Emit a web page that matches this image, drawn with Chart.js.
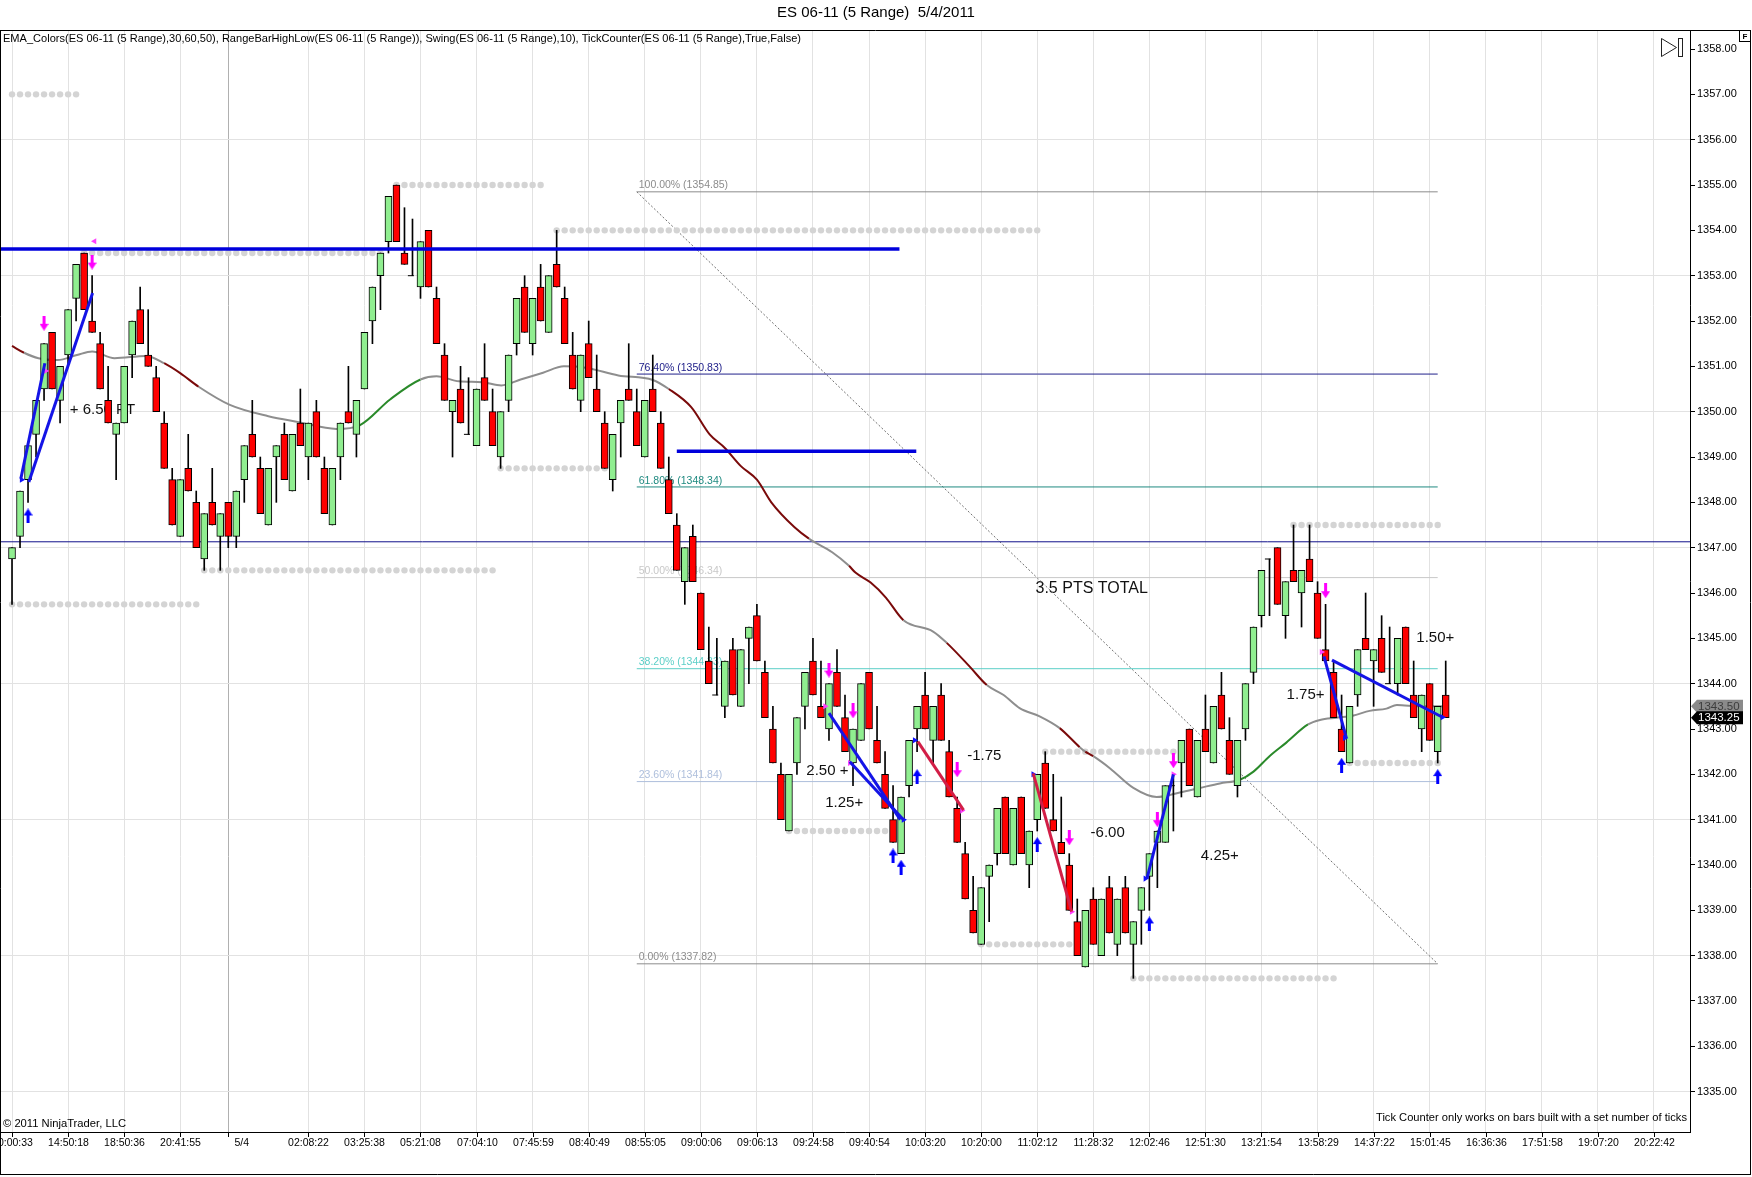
<!DOCTYPE html>
<html>
<head>
<meta charset="utf-8">
<script src="https://cdn.jsdelivr.net/npm/chart.js@4.4.1/dist/chart.umd.min.js"></script>
<style>
  html, body { margin: 0; padding: 0; background: #fff; }
  #wrap { width: 1752px; height: 1177px; }
</style>
</head>
<body>
<div id="wrap"><canvas id="c" width="1752" height="1177"></canvas></div>
<script>
// ---- range bars (5 range) ----
var opens = [
  1346.75,1347.25,1348.5,1349.5,1350.5,1351.75,1350.25,1351.25,1352.5,1353.5,
  1352.0,1351.5,1350.25,1349.5,1349.75,1351.25,1352.25,1351.25,1350.75,1349.75,
  1348.5,1347.25,1348.75,1348.0,1346.75,1348.0,1347.25,1348.0,1347.25,1348.5,
  1349.5,1348.75,1347.5,1349.0,1349.5,1348.25,1349.75,1349.0,1350.0,1348.75,
  1347.5,1349.0,1350.0,1349.5,1350.5,1352.0,1353.0,1353.75,1355.0,1353.5,
  1353.0,1352.75,1354.0,1352.5,1351.25,1350.0,1350.5,1349.5,1349.25,1350.75,
  1350.0,1349.0,1350.25,1351.5,1352.75,1351.5,1352.75,1351.75,1353.25,1352.5,
  1351.25,1350.25,1351.5,1350.5,1349.75,1348.5,1349.75,1350.5,1350.0,1349.0,
  1350.5,1349.75,1348.5,1347.5,1346.25,1347.25,1346.0,1344.5,1343.75,1343.5,
  1344.75,1343.5,1345.0,1345.5,1344.25,1343.0,1342.0,1340.75,1342.25,1343.5,
  1344.5,1343.5,1343.0,1344.25,1343.25,1342.25,1342.75,1344.25,1342.75,1342.0,
  1341.0,1340.25,1341.75,1343.0,1343.75,1342.75,1343.75,1342.5,1341.25,1340.25,
  1339.0,1338.25,1339.75,1340.25,1341.5,1340.0,1341.5,1340.0,1341.0,1342.25,
  1341.0,1340.5,1340.0,1338.75,1337.75,1339.25,1338.0,1339.5,1338.25,1339.5,
  1338.25,1339.0,1339.75,1340.5,1340.5,1341.75,1342.25,1343.0,1341.5,1343.0,
  1342.25,1343.75,1342.75,1341.75,1343.0,1344.25,1345.5,1346.75,1347.0,1345.5,
  1346.5,1346.0,1346.75,1346.0,1344.75,1344.25,1343.0,1342.25,1343.75,1345.0,
  1344.5,1345.0,1344.0,1344.0,1345.25,1343.75,1343.0,1344.0,1342.5,1343.75
];
var highs = [
  1347.0,1348.25,1349.25,1350.25,1351.5,1351.75,1351.0,1352.25,1353.25,1353.5,
  1353.0,1351.75,1351.0,1349.75,1351.0,1352.0,1352.75,1352.25,1351.0,1350.0,
  1348.75,1348.5,1349.5,1348.25,1347.75,1348.75,1347.75,1348.0,1348.25,1349.25,
  1350.25,1349.0,1348.75,1349.25,1349.75,1349.5,1350.5,1349.75,1350.25,1349.0,
  1348.75,1349.75,1351.0,1350.25,1351.75,1352.75,1353.5,1354.75,1355.0,1354.5,
  1354.25,1353.75,1354.0,1352.75,1351.5,1350.25,1351.0,1350.75,1350.5,1351.5,
  1350.5,1350.0,1351.25,1352.5,1353.0,1352.5,1353.25,1353.0,1354.0,1352.75,
  1351.75,1351.25,1352.0,1351.25,1350.0,1349.5,1350.25,1351.5,1350.5,1350.25,
  1351.25,1350.0,1349.0,1347.75,1347.0,1347.5,1346.0,1345.25,1345.0,1344.5,
  1345.0,1344.75,1345.25,1345.75,1344.5,1343.5,1342.25,1342.0,1343.25,1344.25,
  1345.0,1344.5,1344.0,1344.75,1343.75,1343.0,1344.0,1344.25,1343.5,1342.5,
  1341.75,1341.5,1342.75,1343.5,1344.25,1343.5,1344.0,1342.75,1341.5,1340.5,
  1339.75,1339.5,1340.0,1341.25,1341.5,1341.25,1341.5,1340.75,1342.0,1342.5,
  1342.0,1341.5,1340.25,1339.25,1339.0,1339.5,1339.25,1339.75,1339.25,1339.75,
  1338.75,1339.5,1340.25,1340.75,1341.75,1342.0,1342.75,1343.0,1342.75,1343.75,
  1343.5,1344.25,1343.25,1342.75,1344.0,1345.25,1346.5,1346.75,1347.0,1346.25,
  1347.5,1346.5,1347.5,1346.25,1345.75,1344.5,1343.75,1343.5,1344.75,1346.0,
  1344.75,1345.5,1345.25,1345.0,1345.25,1344.5,1343.75,1344.0,1343.5,1344.5
];
var lows = [
  1345.75,1347.0,1348.0,1349.0,1350.25,1350.5,1349.75,1351.0,1352.0,1352.25,
  1351.75,1350.5,1349.75,1348.5,1349.75,1350.75,1351.5,1351.0,1350.0,1348.75,
  1347.5,1347.25,1348.25,1347.0,1346.5,1347.5,1346.5,1347.0,1347.0,1348.0,
  1349.0,1347.75,1347.5,1348.0,1348.5,1348.25,1349.25,1348.5,1349.0,1347.75,
  1347.5,1348.5,1349.75,1349.0,1350.5,1351.5,1352.25,1353.5,1353.75,1353.25,
  1353.0,1352.5,1352.75,1351.5,1350.25,1349.0,1349.75,1349.5,1349.25,1350.25,
  1349.25,1348.75,1350.0,1351.25,1351.75,1351.25,1352.0,1351.75,1352.75,1351.5,
  1350.5,1350.0,1350.75,1350.0,1348.75,1348.25,1349.0,1350.25,1349.25,1349.0,
  1350.0,1348.75,1347.75,1346.5,1345.75,1346.25,1344.75,1344.0,1343.75,1343.25,
  1343.75,1343.5,1344.0,1344.5,1343.25,1342.25,1341.0,1340.75,1342.0,1343.0,
  1343.75,1343.25,1342.75,1343.5,1342.5,1341.75,1342.75,1343.0,1342.25,1341.25,
  1340.5,1340.25,1341.5,1342.5,1343.0,1342.25,1342.75,1341.5,1340.5,1339.25,
  1338.5,1338.25,1338.75,1340.0,1340.25,1340.0,1340.25,1339.5,1340.75,1341.25,
  1340.75,1340.25,1339.0,1338.0,1337.75,1338.25,1338.0,1338.5,1338.0,1338.5,
  1337.5,1338.25,1339.0,1339.5,1340.5,1340.75,1341.5,1341.75,1341.5,1342.5,
  1342.25,1343.0,1342.0,1341.5,1342.75,1344.0,1345.25,1345.5,1345.75,1345.0,
  1346.25,1345.25,1346.25,1345.0,1344.5,1343.25,1342.5,1342.25,1343.5,1344.75,
  1343.5,1344.25,1344.0,1343.75,1344.0,1343.25,1342.5,1342.75,1342.25,1343.25
];
var closes = [
  1347.0,1348.25,1349.25,1350.25,1351.5,1350.5,1351.0,1352.25,1353.25,1352.25,
  1351.75,1350.5,1349.75,1349.75,1351.0,1352.0,1351.5,1351.0,1350.0,1348.75,
  1347.5,1348.5,1348.25,1347.0,1347.75,1347.5,1347.75,1347.25,1348.25,1349.25,
  1349.0,1347.75,1348.75,1349.25,1348.5,1349.5,1349.25,1349.75,1349.0,1347.75,
  1348.75,1349.75,1349.75,1350.25,1351.75,1352.75,1353.5,1354.75,1353.75,1353.25,
  1353.0,1353.75,1352.75,1351.5,1350.25,1350.25,1349.75,1349.5,1350.5,1350.25,
  1349.25,1350.0,1351.25,1352.5,1351.75,1352.5,1352.0,1353.0,1352.75,1351.5,
  1350.5,1351.25,1350.75,1350.0,1348.75,1349.5,1350.25,1350.25,1349.25,1350.25,
  1350.0,1348.75,1347.75,1346.5,1347.0,1346.25,1344.75,1344.0,1343.75,1344.5,
  1343.75,1344.75,1345.25,1344.5,1343.25,1342.25,1341.0,1342.0,1343.25,1344.25,
  1343.75,1343.25,1344.0,1343.5,1342.5,1343.0,1344.0,1343.0,1342.25,1341.25,
  1340.5,1341.5,1342.75,1343.5,1343.0,1343.5,1342.75,1341.5,1340.5,1339.25,
  1338.5,1339.5,1340.0,1341.25,1340.25,1341.25,1340.25,1340.75,1342.0,1341.25,
  1340.75,1340.25,1339.0,1338.0,1339.0,1338.25,1339.25,1338.5,1339.25,1338.5,
  1338.75,1339.5,1340.25,1340.75,1341.75,1341.75,1342.75,1341.75,1342.75,1342.5,
  1343.5,1343.0,1342.0,1342.75,1344.0,1345.25,1346.5,1346.75,1345.75,1346.25,
  1346.25,1346.5,1346.25,1345.0,1344.5,1343.25,1342.5,1343.5,1344.75,1344.75,
  1344.75,1344.25,1344.0,1345.0,1344.0,1343.25,1343.75,1342.75,1343.5,1343.25
];

// x axis labels (bar index -> time)
var tickBars = [0,7,14,21,27,37,44,51,58,65,72,79,86,93,100,107,114,121,128,135,142,149,156,163,170,177,184,191,198,205];
var tickLabels = ['10:00:33','14:50:18','18:50:36','20:41:55','5/4','02:08:22','03:25:38','05:21:08','07:04:10','07:45:59',
  '08:40:49','08:55:05','09:00:06','09:06:13','09:24:58','09:40:54','10:03:20','10:20:00','11:02:12','11:28:32',
  '12:02:46','12:51:30','13:21:54','13:58:29','14:37:22','15:01:45','16:36:36','17:51:58','19:07:20','20:22:42'];
var priceTicks = [1335,1336,1337,1338,1339,1340,1341,1342,1343,1344,1345,1346,1347,1348,1349,1350,1351,1352,1353,1354,1355,1356,1357,1358];

// EMA_Colors line, read at sample bars; r = falling, G = rising, g = flat
var emaBars = [0,1.5,3.3,5.7,8.1,10,12.8,16.7,19,21,23.3,27.2,32,35.8,40.5,43.4,47.2,51,53,55.8,
  58.7,61.1,63.5,66.3,68.9,71.6,75.7,80,82,84.8,87.1,89,91,93,94.8,97.7,99.5,102.4,104.5,105.3,
  107.2,109.1,111.3,115,116.7,119.6,121.7,123.8,125.8,128.3,130.8,133.3,134,135,137.1,140,142.9,145.8,148.3,150.8,
  153.3,155,157,159.1,161.8,163.3,165.4,167.5,169.5,171.6,172.9,175.8,179];
var emaValues = [1351.45,1351.3,1351.18,1351.14,1351.25,1351.33,1351.18,1351.23,1351.07,1350.85,1350.55,1350.15,1349.9,1349.77,1349.62,1349.7,1350.27,1350.71,1350.78,1350.67,
  1350.65,1350.58,1350.71,1350.86,1351.0,1350.97,1350.8,1350.7,1350.5,1350.1,1349.5,1349.2,1348.8,1348.5,1348.0,1347.45,1347.2,1346.9,1346.6,1346.45,
  1346.23,1345.9,1345.4,1345.15,1344.9,1344.37,1343.97,1343.75,1343.46,1343.28,1343.02,1342.6,1342.5,1342.4,1342.13,1341.7,1341.5,1341.6,1341.7,1341.8,
  1341.88,1342.06,1342.4,1342.7,1343.1,1343.2,1343.25,1343.3,1343.4,1343.45,1343.53,1343.5,1343.5];
var emaTrend = ('r' + 'ggggggg' + 'rr' + 'ggggg' + 'GG' + 'ggggggggggg' + 'rrrrrrrr' + 'gg' + 'rrrr' + 'gg' + 'rr' +
  'gggg' + 'r' + 'g' + 'r' + 'ggggggg' + 'GGGG' + 'ggggggggg').split('');

// RangeBarHighLow swing levels (dotted)
var dotLevels = [1357.0,1353.5,1355.0,1354.0,1345.75,1346.5,1348.75,1340.75,1338.25,1342.5,1337.5,1347.5,1342.25];
var dotFrom   = [0,9,48,68,0,24,61,97,121,129,140,160,167];
var dotTo     = [8,46,66,128,23,60,74,109,132,145,165,178,178];

// Fibonacci retracement
var fibPct = ['100.00%','76.40%','61.80%','50.00%','38.20%','23.60%','0.00%'];
var fibValues = [1354.85,1350.83,1348.34,1346.34,1344.33,1341.84,1337.82];
var fibStartBar = 78, fibEndBar = 178;

// drawn horizontal lines
var bluePrice = [1353.59,1349.13];
var blueFrom = [-1.5,83];
var blueTo = [110.8,112.9];
var navyPrice = 1347.13;

// trade lines
var tradeFromBar   = [1.1,2.1,102.0,104.6,113.1,127.5,141.7,163.8,164.8];
var tradeFromPrice = [1348.52,1348.45,1343.35,1342.28,1342.72,1342.02,1339.7,1344.6,1344.52];
var tradeToBar     = [4.1,10.06,110.9,111.3,118.8,132.3,145.0,166.6,178.6];
var tradeToPrice   = [1351.07,1352.62,1341.0,1341.0,1341.21,1338.97,1342.0,1342.8,1343.26];
var tradeWin       = [true,true,true,true,false,false,true,true,true];

// notes
var noteText  = ['+ 6.50 PT','2.50 +','1.25+','-1.75','-6.00','4.25+','1.75+','1.50+','3.5 PTS TOTAL'];
var noteBar   = [11.3,101.8,103.9,121.4,136.8,150.8,161.5,177.7,134.8];
var notePrice = [1350.04,1342.08,1341.36,1342.40,1340.70,1340.2,1343.75,1345.0,1346.1];

// swing arrows
var downBars   = [4,10,102,105,118,132,143,145,164];
var downPrices = [1351.95,1353.3,1344.3,1343.4,1342.1,1340.6,1341.0,1342.3,1346.05];
var upBars     = [2,110,111,113,128,142,166,178];
var upPrices   = [1347.7,1340.2,1339.95,1341.95,1340.45,1338.7,1342.2,1341.95];
var triBars    = [10.3,4.2,1.2,101.5,104.6,118.6,111.3,112.7,127.5,132.3,141.5,145,163.5,166.4,178.6];
var triPrices  = [1353.76,1350.9,1348.5,1343.5,1342.25,1341.2,1341.0,1342.75,1342.0,1338.97,1339.7,1342.0,1344.7,1342.8,1343.26];
var triSide    = ['S','S','L','S','S','S','L','L','L','S','L','S','S','L','L'];

var FONT = "'Liberation Sans', Arial, Helvetica, sans-serif";
var fibColors = ['#8c8c8c','#20208a','#1f8a80','#c8c8c8','#5ccfc8','#aebfdc','#8c8c8c'];
var emaColorMap = { g: '#8e8e8e', r: '#7a0a0a', G: '#2a8a2a' };

function makeArrow(color, up) {
  var cv = document.createElement('canvas');
  cv.width = 9; cv.height = 15;
  var g = cv.getContext('2d');
  g.fillStyle = color;
  g.beginPath();
  if (up) {
    g.moveTo(4.5, 0); g.lineTo(9, 7); g.lineTo(6, 7); g.lineTo(6, 15); g.lineTo(3, 15); g.lineTo(3, 7); g.lineTo(0, 7);
  } else {
    g.moveTo(4.5, 15); g.lineTo(9, 8); g.lineTo(6, 8); g.lineTo(6, 0); g.lineTo(3, 0); g.lineTo(3, 8); g.lineTo(0, 8);
  }
  g.closePath();
  g.fill();
  return cv;
}

function fitText(c, text, x, y, w, align) {
  var m = c.measureText(text).width;
  c.save();
  c.translate(x, y);
  c.scale(w / m, 1);
  c.textAlign = align;
  c.fillText(text, 0, 0);
  c.restore();
}

// ---- datasets ----
var datasets = [];

// trade lines (top)
for (var t = 0; t < tradeFromBar.length; t++) {
  datasets.push({
    type: 'line', order: 1,
    data: [{x: tradeFromBar[t], y: tradeFromPrice[t]}, {x: tradeToBar[t], y: tradeToPrice[t]}],
    borderColor: tradeWin[t] ? '#1414e6' : '#d21e46', borderWidth: 3, pointRadius: 0
  });
}
// thick blue drawn lines
for (var b = 0; b < bluePrice.length; b++) {
  datasets.push({
    type: 'line', order: 2,
    data: [{x: blueFrom[b], y: bluePrice[b]}, {x: blueTo[b], y: bluePrice[b]}],
    borderColor: '#0000dc', borderWidth: 3.5, pointRadius: 0
  });
}
// arrows and triangles
datasets.push({
  type: 'line', order: 1, showLine: false,
  data: downBars.map(function (v, i) { return {x: v, y: downPrices[i]}; }),
  pointStyle: makeArrow('#ff00ff', false), pointRadius: 5
});
datasets.push({
  type: 'line', order: 1, showLine: false,
  data: upBars.map(function (v, i) { return {x: v, y: upPrices[i]}; }),
  pointStyle: makeArrow('#0000ff', true), pointRadius: 5
});
datasets.push({
  type: 'line', order: 1, showLine: false,
  data: triBars.map(function (v, i) { return {x: v, y: triPrices[i]}; }),
  pointStyle: 'triangle', pointRadius: 3.5, pointBorderWidth: 0,
  pointRotation: function (ctx) { return ctx.dataIndex === 0 ? -90 : 90; },
  pointBackgroundColor: triSide.map(function (s) { return s === 'S' ? '#ff40ff' : '#1010ff'; })
});
// doji ticks
var dojiPts = [];
for (var d = 0; d < opens.length; d++) if (opens[d] === closes[d]) dojiPts.push({x: d - 0.2, y: opens[d]});
datasets.push({
  type: 'line', order: 3, showLine: false, data: dojiPts,
  pointStyle: 'line', pointRadius: 3, borderColor: '#000', pointBorderColor: '#000', pointBorderWidth: 1
});
// candle bodies
datasets.push({
  type: 'bar', order: 4, grouped: false,
  data: opens.map(function (o, i) { return {x: i, y: [o, closes[i]]}; }),
  backgroundColor: opens.map(function (o, i) { return closes[i] > o ? '#90ee90' : (closes[i] < o ? '#ff0000' : '#000'); }),
  borderColor: '#000', borderWidth: 1, borderSkipped: false, barThickness: 7
});
// wicks
datasets.push({
  type: 'bar', order: 5, grouped: false,
  data: lows.map(function (l, i) { return {x: i, y: [l, highs[i]]}; }),
  backgroundColor: '#000', borderWidth: 0, barThickness: 1
});
// EMA
datasets.push({
  type: 'line', order: 6,
  data: emaBars.map(function (v, i) { return {x: v, y: emaValues[i]}; }),
  borderWidth: 2, pointRadius: 0, cubicInterpolationMode: 'monotone',
  borderColor: '#8e8e8e',
  segment: { borderColor: function (ctx) { return emaColorMap[emaTrend[ctx.p0DataIndex]]; } }
});
// swing dots
var dotPts = [];
for (var k = 0; k < dotLevels.length; k++) {
  for (var j = dotFrom[k]; j <= dotTo[k]; j++) dotPts.push({x: j, y: dotLevels[k]});
}
datasets.push({
  type: 'line', order: 7, showLine: false, data: dotPts,
  pointRadius: 3.2, pointBorderWidth: 0, pointBackgroundColor: '#d4d4d4'
});
// navy line
datasets.push({
  type: 'line', order: 8,
  data: [{x: -1.5, y: navyPrice}, {x: 209.5, y: navyPrice}],
  borderColor: '#10108a', borderWidth: 1, pointRadius: 0
});
// fib lines and diagonal
for (var f = 0; f < fibValues.length; f++) {
  datasets.push({
    type: 'line', order: 9,
    data: [{x: fibStartBar, y: fibValues[f]}, {x: fibEndBar, y: fibValues[f]}],
    borderColor: fibColors[f], borderWidth: 1, pointRadius: 0
  });
}
datasets.push({
  type: 'line', order: 9,
  data: [{x: fibStartBar, y: fibValues[0]}, {x: fibEndBar, y: fibValues[fibValues.length - 1]}],
  borderColor: '#707070', borderWidth: 1, borderDash: [2, 2], pointRadius: 0
});

var overlay = {
  id: 'overlay',
  beforeDraw: function (chart) {
    var c = chart.ctx;
    c.save(); c.fillStyle = '#fff'; c.fillRect(0, 0, chart.width, chart.height); c.restore();
  },
  beforeDatasetsDraw: function (chart) {
    var c = chart.ctx, xs = chart.scales.x, ys = chart.scales.y;
    c.save();
    c.font = '10.5px ' + FONT; c.textAlign = 'left'; c.textBaseline = 'bottom';
    for (var i = 0; i < fibValues.length; i++) {
      c.fillStyle = fibColors[i];
      c.fillText(fibPct[i] + ' (' + fibValues[i].toFixed(2) + ')', xs.getPixelForValue(fibStartBar) + 2, ys.getPixelForValue(fibValues[i]) - 1);
    }
    c.fillStyle = '#111'; c.textAlign = 'center'; c.textBaseline = 'middle';
    for (var n = 0; n < noteText.length; n++) {
      c.font = (noteText[n].length > 10 ? '16px ' : '15px ') + FONT;
      c.fillText(noteText[n], xs.getPixelForValue(noteBar[n]), ys.getPixelForValue(notePrice[n]));
    }
    c.restore();
  },
  afterDraw: function (chart) {
    var c = chart.ctx, xs = chart.scales.x, ys = chart.scales.y, a = chart.chartArea;
    c.save();
    // x ticks + labels
    c.strokeStyle = '#000'; c.lineWidth = 1; c.fillStyle = '#000';
    c.font = '10.5px ' + FONT; c.textBaseline = 'middle';
    for (var i = 0; i < tickBars.length; i++) {
      var px = Math.round(xs.getPixelForValue(tickBars[i])) + 0.5;
      c.beginPath(); c.moveTo(px, a.bottom); c.lineTo(px, a.bottom + 5); c.stroke();
      if (tickLabels[i].indexOf('/') >= 0) { c.textAlign = 'left'; c.fillText(tickLabels[i], px + 6, a.bottom + 11); }
      else { c.textAlign = 'center'; c.fillText(tickLabels[i], px, a.bottom + 11); }
    }
    // frames
    c.beginPath();
    c.moveTo(0, a.top + 0.5); c.lineTo(1751, a.top + 0.5);
    c.moveTo(0.5, a.top); c.lineTo(0.5, 1175);
    c.moveTo(0, 1174.5); c.lineTo(1751, 1174.5);
    c.moveTo(1750.5, a.top); c.lineTo(1750.5, 1175);
    c.stroke();
    // title + indicator line
    c.textBaseline = 'middle';
    c.font = '15px ' + FONT; c.textAlign = 'center';
    c.fillText('ES 06-11 (5 Range)  5/4/2011', 876, 13);
    c.font = '11px ' + FONT;
    fitText(c, 'EMA_Colors(ES 06-11 (5 Range),30,60,50), RangeBarHighLow(ES 06-11 (5 Range)), Swing(ES 06-11 (5 Range),10), TickCounter(ES 06-11 (5 Range),True,False)', 3, 39, 798, 'left');
    fitText(c, '\u00a9 2011 NinjaTrader, LLC', 3, 1124, 123, 'left');
    fitText(c, 'Tick Counter only works on bars built with a set number of ticks', 1687, 1118, 311, 'right');
    // play-to-end icon
    c.strokeStyle = '#222';
    c.beginPath(); c.moveTo(1661.5, 38.5); c.lineTo(1661.5, 56.5); c.lineTo(1676.5, 47.5); c.closePath(); c.stroke();
    c.strokeRect(1678.5, 38.5, 4, 18);
    // F box
    c.strokeStyle = '#000';
    c.strokeRect(1739.5, 30.5, 11, 11);
    c.font = 'bold 8px ' + FONT; c.textAlign = 'center';
    c.fillText('F', 1745, 36.5);
    // last value tags
    var tags = [[emaValues[emaValues.length - 1], '#8a8a8a', '#3c3c3c'], [closes[closes.length - 1], '#000', '#fff']];
    c.font = '11.5px ' + FONT; c.textAlign = 'left';
    for (var g = 0; g < tags.length; g++) {
      var yc = ys.getPixelForValue(tags[g][0]);
      c.fillStyle = tags[g][1];
      c.beginPath();
      c.moveTo(a.right + 1, yc); c.lineTo(a.right + 7, yc - 6.5); c.lineTo(1743, yc - 6.5);
      c.lineTo(1743, yc + 6.5); c.lineTo(a.right + 7, yc + 6.5); c.closePath(); c.fill();
      c.fillStyle = tags[g][2];
      c.fillText(tags[g][0].toFixed(2), a.right + 8, yc + 0.5);
    }
    c.restore();
  }
};

new Chart(document.getElementById('c'), {
  type: 'bar',
  data: { datasets: datasets },
  options: {
    responsive: false, animation: false, devicePixelRatio: 1, events: [],
    layout: { autoPadding: false, padding: { top: 30, left: 0, right: 0, bottom: 0 } },
    plugins: { legend: { display: false }, tooltip: { enabled: false } },
    scales: {
      x: {
        type: 'linear', min: -1.5, max: 209.5, offset: false,
        grid: {
          offset: false, drawTicks: false,
          color: function (ctx) { return ctx.tick && ctx.tick.value === 27 ? '#b0b0b0' : '#e2e2e2'; }
        },
        border: { color: '#000' },
        ticks: { display: false },
        afterBuildTicks: function (s) { s.ticks = tickBars.map(function (v) { return {value: v}; }); },
        afterFit: function (s) { s.height = 45; }
      },
      y: {
        type: 'linear', position: 'right', min: 1334.11, max: 1358.42, beginAtZero: false,
        grid: {
          color: function (ctx) { return ctx.tick && (ctx.tick.value - 1335) % 3 === 0 ? '#e2e2e2' : 'rgba(0,0,0,0)'; },
          tickColor: '#000', tickLength: 5
        },
        border: { color: '#000' },
        ticks: {
          autoSkip: false, padding: 2, color: '#000', font: { size: 11, family: FONT },
          callback: function (v) { return Number(v).toFixed(2); }
        },
        afterBuildTicks: function (s) { s.ticks = priceTicks.map(function (v) { return {value: v}; }); },
        afterFit: function (s) { s.width = 62; }
      }
    }
  },
  plugins: [overlay]
});
</script>
</body>
</html>
